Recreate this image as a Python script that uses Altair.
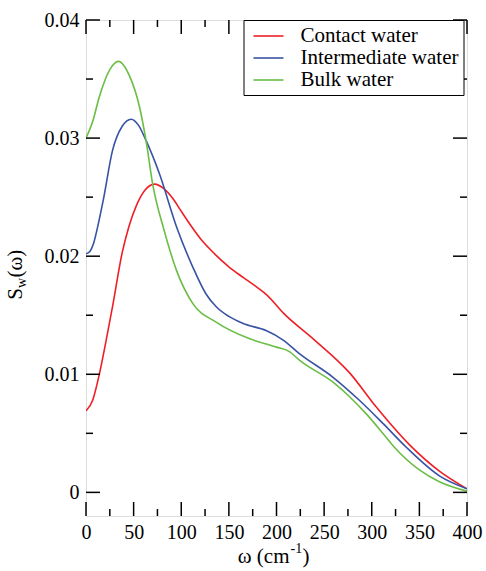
import altair as alt
import pandas as pd

series = ["Contact water", "Intermediate water", "Bulk water"]
colors = ["#ee1f26", "#3953a4", "#6abd45"]

contact_x = [0, 7, 14, 21, 28, 38, 45, 53, 62, 72, 82, 91, 100, 110, 122, 135, 150, 165, 179, 190, 207, 240, 277, 305,
             340, 371, 400]
contact_y = [0.0069, 0.0078, 0.0100, 0.0128, 0.0158, 0.0203, 0.0225, 0.0243, 0.0256, 0.0261, 0.0257, 0.0249, 0.0238,
             0.0226, 0.0213, 0.0202, 0.0191, 0.0182, 0.0174, 0.0167, 0.0152, 0.0129, 0.0101, 0.0072, 0.0040, 0.0018,
             0.0003]

inter_x = [0, 4, 8, 12, 18, 28, 38, 47.5, 55, 63, 77, 95, 112, 126, 137, 150, 165, 189, 207, 224, 259, 287, 312, 336,
           371, 400]
inter_y = [0.0202, 0.0204, 0.0211, 0.0224, 0.0247, 0.0290, 0.0310, 0.0316, 0.0311, 0.0298, 0.0270, 0.0225, 0.0191,
           0.0168, 0.0157, 0.0149, 0.0143, 0.0137, 0.0129, 0.01175, 0.00977, 0.0078, 0.00582, 0.00384, 0.0014, 0.0003]

bulk_x = [0, 7, 14, 25, 34, 46, 56, 63, 70, 82, 95, 112, 137, 172, 200, 214, 224, 259, 277, 294, 312, 324, 350, 371,
          400]
bulk_y = [0.0300, 0.0314, 0.0335, 0.0358, 0.0365, 0.0352, 0.0327, 0.0298, 0.0261, 0.0222, 0.0188, 0.0160, 0.0144,
          0.0130, 0.0123, 0.0119, 0.0112, 0.00935, 0.00808, 0.00667, 0.00497, 0.0038, 0.0019, 0.0009, 0.0001]

x_major = [0, 50, 100, 150, 200, 250, 300, 350, 400]
x_minor = [25, 75, 125, 175, 225, 275, 325, 375]
y_major = [0, 0.01, 0.02, 0.03, 0.04]
y_minor = [0.005, 0.015, 0.025, 0.035]

rows = []
for name, xs, ys in zip(series, [contact_x, inter_x, bulk_x], [contact_y, inter_y, bulk_y]):
    for xv, yv in zip(xs, ys):
        rows.append({"omega": xv, "S": yv, "series": name})
df = pd.DataFrame(rows)

W, H = 381, 496
FONT = "Liberation Serif"
xscale = alt.Scale(domain=[0, 400], nice=False, zero=False)
yscale = alt.Scale(domain=[-0.002, 0.04], nice=False, zero=False)

axis_common = dict(title=None, ticks=False, domain=False, grid=False, labelFont=FONT,
                   labelFontSize=20, labelColor="black", labelFlush=False, labelOverlap=False)
x_axis = alt.Axis(values=x_major, labelPadding=6, **axis_common)
y_axis = alt.Axis(values=y_major, format="~g", labelPadding=7, **axis_common)

lines = alt.Chart(df).mark_line(strokeWidth=1.6, interpolate="monotone", clip=True).encode(
    x=alt.X("omega:Q", scale=xscale, axis=x_axis),
    y=alt.Y("S:Q", scale=yscale, axis=y_axis),
    color=alt.Color("series:N", scale=alt.Scale(domain=series, range=colors), sort=series,
                    legend=alt.Legend(orient="none", legendX=157.5, legendY=0, title=None,
                                      symbolType="M-1.5,0H1.5", symbolSize=400, symbolStrokeWidth=1.6,
                                      symbolOffset=9, labelOffset=21,
                                      labelFont=FONT, labelFontSize=21, labelColor="black",
                                      labelLimit=400, strokeColor="black", fillColor="white",
                                      padding=5, rowPadding=1)),
    detail="series:N",
)


def x_ticks(vals, length):
    d = pd.DataFrame({"v": vals})
    base = alt.Chart(d).mark_rule(color="black", strokeWidth=1.5)
    bottom = base.encode(x=alt.X("v:Q", scale=xscale, axis=x_axis), y=alt.value(H), y2=alt.value(H - length))
    top = base.encode(x=alt.X("v:Q", scale=xscale, axis=x_axis), y=alt.value(0), y2=alt.value(length))
    return [bottom, top]


def y_ticks(vals, length):
    d = pd.DataFrame({"v": vals})
    base = alt.Chart(d).mark_rule(color="black", strokeWidth=1.5)
    left = base.encode(y=alt.Y("v:Q", scale=yscale, axis=y_axis), x=alt.value(0), x2=alt.value(length))
    right = base.encode(y=alt.Y("v:Q", scale=yscale, axis=y_axis), x=alt.value(W), x2=alt.value(W - length))
    return [left, right]


ticks = x_ticks(x_major, 14) + x_ticks(x_minor, 7) + y_ticks(y_major, 14) + y_ticks(y_minor, 7)


def label(text, x, y, size=21, align="left", angle=0, dx=0, dy=0):
    return alt.Chart(pd.DataFrame({"t": [text]})).mark_text(
        font=FONT, fontSize=size, color="black", align=align, baseline="alphabetic",
        angle=angle, dx=dx, dy=dy
    ).encode(x=alt.value(x), y=alt.value(y), text="t:N")


titles = [
    label("ω (cm", 203.5, 543, align="right"),
    label("-1", 204.5, 533, size=14),
    label(")", 216.5, 543),
    label("S", -64.5, 268, align="right", angle=270),
    label("w", -64.5, 268, size=14, angle=270, dy=4),
    label("(ω)", -64.5, 268, angle=270, dx=10.5),
]

chart = alt.layer(lines, *ticks, *titles).properties(
    width=W, height=H,
    autosize=alt.AutoSizeParams(type="none"),
    padding={"left": 86, "top": 20, "right": 19, "bottom": 55},
).configure_view(stroke="black", strokeWidth=1.8).configure(background="white")

chart.save("out.html", embed_options={"renderer": "svg", "actions": False})
